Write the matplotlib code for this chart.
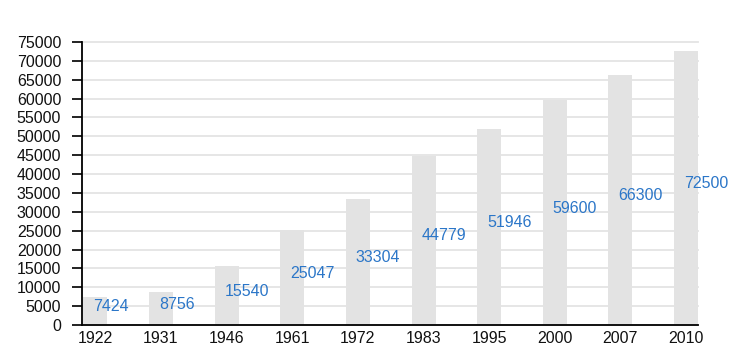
import matplotlib
matplotlib.use("Agg")
import matplotlib.pyplot as plt
import numpy as np

# datos
years = ["1922", "1931", "1946", "1961", "1972", "1983", "1995", "2000", "2007", "2010"]
population = [7424, 8756, 15540, 25047, 33304, 44779, 51946, 59600, 66300, 72500]
y_ticks = list(range(0, 75001, 5000))

plt.rcParams['font.family'] = ['Liberation Sans', 'DejaVu Sans']

fig = plt.figure(figsize=(7.53, 3.58), dpi=100)
ax = fig.add_axes([0.109, 0.092, 0.818, 0.791])

x = np.arange(len(years))
w = 0.365
ax.bar(x, population, width=w, color="#e3e3e3", zorder=2)

for xi, v in zip(x, population):
    ax.text(xi - 0.03, v / 2 + 1200, str(v), ha="left", va="center",
            color="#2b76c8", fontsize=11.5, zorder=3)

ax.set_xlim(-w / 2 - 0.02, len(years) - 1 + w / 2)
ax.set_ylim(0, 75000)
ax.set_yticks(y_ticks)
ax.set_yticklabels([str(t) for t in y_ticks])
ax.set_xticks(x)
ax.set_xticklabels(years)

ax.grid(axis="y", color="#e4e4e4", linewidth=1.3, zorder=1)
for gl in ax.get_ygridlines():
    gl.set_clip_on(False)
ax.set_axisbelow(True)
for s in ["top", "right"]:
    ax.spines[s].set_visible(False)
ax.spines["left"].set_linewidth(1.3)
ax.spines["bottom"].set_linewidth(1.3)
ax.spines["left"].set_zorder(4)
ax.spines["bottom"].set_zorder(4)
ax.tick_params(axis="y", length=7, width=1.3, pad=8, labelsize=11.5, colors="#111111")
ax.tick_params(axis="x", length=0, pad=4, labelsize=11.5, colors="#111111")

plt.savefig("out.png", dpi=100)
